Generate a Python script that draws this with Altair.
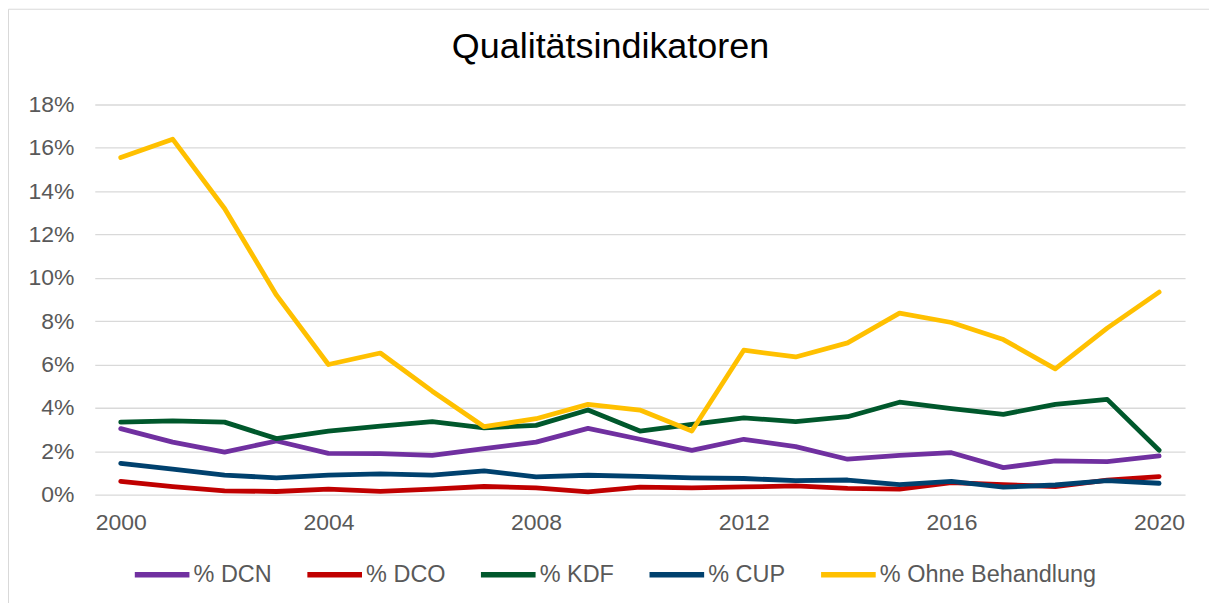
import altair as alt
import pandas as pd

years = list(range(2000, 2021))
series_names = ["% DCN", "% DCO", "% KDF", "% CUP", "% Ohne Behandlung"]
colors = ["#7030A0", "#C00000", "#00582C", "#00416E", "#FFC000"]

dcn = [3.04, 2.42, 1.96, 2.47, 1.90, 1.89, 1.81, 2.12, 2.42, 3.05, 2.55,
       2.04, 2.55, 2.21, 1.63, 1.81, 1.93, 1.24, 1.55, 1.52, 1.78]
dco = [0.61, 0.37, 0.17, 0.14, 0.25, 0.15, 0.25, 0.37, 0.31, 0.12, 0.34,
       0.31, 0.35, 0.40, 0.28, 0.25, 0.55, 0.46, 0.37, 0.66, 0.83]
kdf = [3.34, 3.40, 3.34, 2.58, 2.93, 3.16, 3.36, 3.08, 3.19, 3.90, 2.93,
       3.24, 3.54, 3.36, 3.59, 4.26, 3.96, 3.70, 4.16, 4.39, 2.04]
cup = [1.44, 1.17, 0.90, 0.77, 0.90, 0.95, 0.90, 1.09, 0.81, 0.89, 0.84,
       0.77, 0.74, 0.64, 0.67, 0.46, 0.61, 0.34, 0.44, 0.64, 0.52]
ohne = [15.55, 16.40, 13.20, 9.20, 6.00, 6.53, 4.77, 3.13, 3.50, 4.16, 3.90,
        2.93, 6.66, 6.35, 7.00, 8.37, 7.94, 7.15, 5.80, 7.68, 9.34]

y_ticks = [0, 2, 4, 6, 8, 10, 12, 14, 16, 18]
x_ticks = [2000, 2004, 2008, 2012, 2016, 2020]
title_text = "Qualitätsindikatoren"

rows = []
for i, (name, vals) in enumerate(zip(series_names, [dcn, dco, kdf, cup, ohne])):
    for y, v in zip(years, vals):
        rows.append({"Jahr": y, "Wert": v, "Serie": name, "ord": i})
df = pd.DataFrame(rows)

FONT = "Liberation Sans"
GRAY = "#595959"
W, H = 1093, 391

lines = alt.Chart(df).mark_line(strokeWidth=4.8, strokeCap="round", strokeJoin="round").encode(
    x=alt.X("Jahr:Q", scale=alt.Scale(domain=[1999.5, 2020.5], nice=False, zero=False),
            axis=alt.Axis(values=x_ticks, format="d", title=None, grid=False, ticks=False,
                          domain=False, labelFontSize=23, labelColor=GRAY, labelFont=FONT,
                          labelPadding=17)),
    y=alt.Y("Wert:Q", scale=alt.Scale(domain=[0, 18], nice=False),
            axis=alt.Axis(values=y_ticks, labelExpr="datum.value + '%'", title=None,
                          grid=True, gridColor="#d9d9d9", gridWidth=1.3, ticks=False,
                          domain=False, labelFontSize=23, labelColor=GRAY, labelFont=FONT,
                          labelPadding=21)),
    color=alt.Color("Serie:N", sort=series_names,
                    scale=alt.Scale(domain=series_names, range=colors),
                    legend=alt.Legend(title=None, orient="none", direction="horizontal",
                                      legendX=37, legendY=441, symbolType="stroke",
                                      symbolSize=3000, symbolStrokeWidth=5.5,
                                      labelFontSize=23.5, labelColor=GRAY, labelFont=FONT,
                                      labelOffset=1, columnPadding=24, labelLimit=400)),
    order=alt.Order("ord:Q"),
)

title = alt.Chart(pd.DataFrame({"t": [title_text]})).mark_text(
    fontSize=36, font=FONT, color="#000000", align="center", baseline="alphabetic"
).encode(text="t:N", x=alt.value(517), y=alt.value(-47))

one = pd.DataFrame({"a": [0]})
border_top = alt.Chart(one).mark_rule(color="#d9d9d9", strokeWidth=1).encode(
    x=alt.value(-86.5), x2=alt.value(1140), y=alt.value(-95.5))
border_left = alt.Chart(one).mark_rule(color="#d9d9d9", strokeWidth=1).encode(
    x=alt.value(-86.5), y=alt.value(-95.5), y2=alt.value(620))

chart = alt.layer(border_top, border_left, lines, title).properties(
    width=W, height=H,
    autosize=alt.AutoSizeParams(type="none"),
    padding={"left": 87, "top": 96, "right": 24, "bottom": 108},
).configure_view(stroke=None)

chart.save("out.html", embed_options={"renderer": "svg", "actions": False})
